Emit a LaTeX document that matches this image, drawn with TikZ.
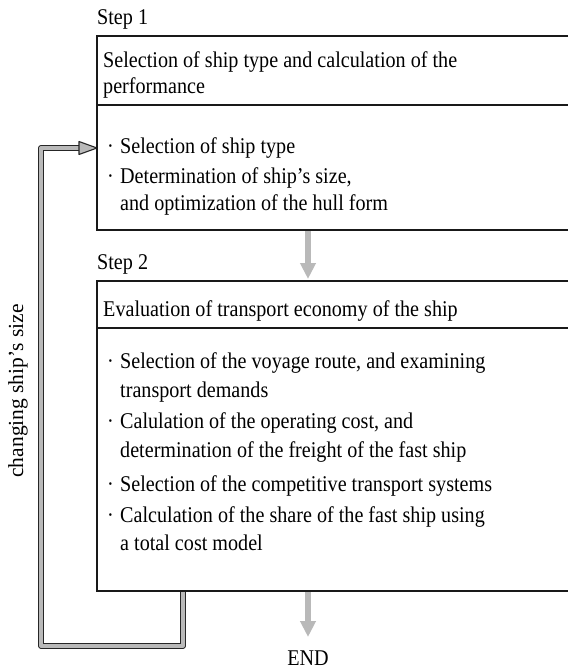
\documentclass[tikz,border=0pt]{standalone}
\usepackage{fontspec}
\setmainfont[FakeStretch=0.895]{Liberation Serif}
\newfontfamily\labelfont{Liberation Serif}
\usetikzlibrary{arrows.meta}
\begin{document}
\begin{tikzpicture}[x=1pt,y=-1pt,
  txt/.style={anchor=base west, inner sep=0pt, font=\fontsize{22.5}{27}\selectfont},
  ctxt/.style={anchor=base, inner sep=0pt, font=\fontsize{22.5}{27}\selectfont},
  boxline/.style={line width=1.4pt, draw=black!90},
  flowarrow/.style={draw=gray!55, line width=6pt, -{Triangle[width=15pt,length=16pt]}},
  loopline/.style={draw=black!85, line width=1.3pt, double=gray!55, double distance=3.2pt, line join=round},
  looptip/.style={draw=black!85, fill=gray!55, line width=1.1pt, line join=round}]
\useasboundingbox (0,0) rectangle (568,669);

% named corners
\coordinate (b1tl) at (97,36);
\coordinate (b1tr) at (568,36);
\coordinate (b1ml) at (97,105);
\coordinate (b1mr) at (568,105);
\coordinate (b1bl) at (97,230);
\coordinate (b1br) at (568,230);
\coordinate (b2tl) at (97,281);
\coordinate (b2tr) at (568,281);
\coordinate (b2ml) at (97,328);
\coordinate (b2mr) at (568,328);
\coordinate (b2bl) at (97,591);
\coordinate (b2br) at (568,591);

% feedback loop
\coordinate (fbstart) at (183,591);
\coordinate (fbA) at (183,646);
\coordinate (fbB) at (41,646);
\coordinate (fbC) at (41,148);
\coordinate (fbD) at (80,148);
\coordinate (fbtip) at (97,148);
\draw[loopline] (fbstart) -- (fbA) -- (fbB) -- (fbC) -- (fbD);
\draw[looptip] (79,141.5) -- (fbtip) -- (79,154.5) -- cycle;

% boxes
\draw[boxline] (b1tr) -- (b1tl) -- (b1bl) -- (b1br);
\draw[boxline] (b1ml) -- (b1mr);
\draw[boxline] (b2tr) -- (b2tl) -- (b2bl) -- (b2br);
\draw[boxline] (b2ml) -- (b2mr);

% flow arrows
\coordinate (a1s) at (308,231);
\coordinate (a1e) at (308,279);
\coordinate (a2s) at (308,592);
\coordinate (a2e) at (308,637);
\draw[flowarrow] (a1s) -- (a1e);
\draw[flowarrow] (a2s) -- (a2e);

% texts
\node[txt] (step1) at (97,25) {Step 1};
\node[txt] (h1a) at (103,67) {Selection of ship type and calculation of the};
\node[txt] (h1b) at (103,93) {performance};
\node[txt] (d1) at (107,153) {·};
\node[txt] (i1) at (120,153) {Selection of ship type};
\node[txt] (d2) at (107,183) {·};
\node[txt] (i2a) at (120,183) {Determination of ship’s size,};
\node[txt] (i2b) at (120,210) {and optimization of the hull form};

\node[txt] (step2) at (97,269) {Step 2};
\node[txt] (h2) at (103,316) {Evaluation of transport economy of the ship};
\node[txt] (e1) at (107,368) {·};
\node[txt] (j1a) at (120,368) {Selection of the voyage route, and examining};
\node[txt] (j1b) at (120,397) {transport demands};
\node[txt] (e2) at (107,428) {·};
\node[txt] (j2a) at (120,428) {Calulation of the operating cost, and};
\node[txt] (j2b) at (120,457) {determination of the freight of the fast ship};
\node[txt] (e3) at (107,491) {·};
\node[txt] (j3) at (120,491) {Selection of the competitive transport systems};
\node[txt] (e4) at (107,522) {·};
\node[txt] (j4a) at (120,522) {Calculation of the share of the fast ship using};
\node[txt] (j4b) at (120,550) {a total cost model};

\node[ctxt] (endl) at (308,665) {END};
\node[inner sep=0pt, rotate=90, font=\labelfont\fontsize{21.5}{26}\selectfont] (lbl) at (18,391) {changing ship’s size};
\end{tikzpicture}
\end{document}
